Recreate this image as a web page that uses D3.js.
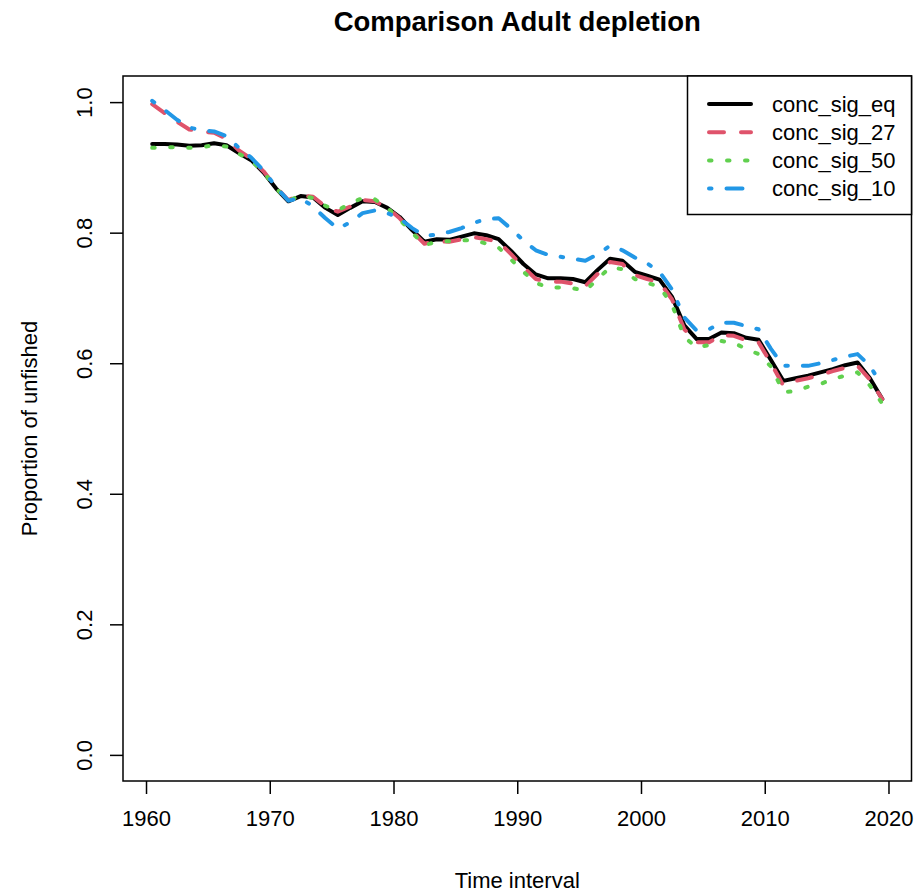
<!DOCTYPE html>
<html>
<head>
<meta charset="utf-8">
<script src="https://cdn.jsdelivr.net/npm/d3@7"></script>
<style>
  html, body { margin: 0; padding: 0; background: #fff; }
  svg { display: block; }
  text { font-family: "Liberation Sans", Arial, sans-serif; fill: #000; }
</style>
</head>
<body>
<div id="chart"></div>
<script>
// time points (mid-year, one per year 1960..2019)
const years = d3.range(1960.5, 2020, 1);

const concSigEq = [
  0.936, 0.936, 0.935, 0.933, 0.934, 0.937, 0.934, 0.922, 0.911, 0.892,
  0.868, 0.848, 0.856, 0.854, 0.838, 0.827, 0.838, 0.848, 0.847, 0.838,
  0.824, 0.804, 0.786, 0.790, 0.789, 0.794, 0.799, 0.796, 0.790, 0.772,
  0.752, 0.736, 0.730, 0.730, 0.729, 0.724, 0.743, 0.760, 0.757, 0.740,
  0.734, 0.728, 0.702, 0.658, 0.637, 0.637, 0.647, 0.646, 0.639, 0.636,
  0.605, 0.573, 0.577, 0.581, 0.586, 0.591, 0.597, 0.601, 0.577, 0.545
];
const concSig27 = [
  0.997, 0.983, 0.970, 0.958, 0.955, 0.953, 0.944, 0.926, 0.913, 0.894,
  0.870, 0.850, 0.857, 0.855, 0.840, 0.832, 0.840, 0.850, 0.848, 0.838,
  0.822, 0.802, 0.783, 0.787, 0.786, 0.790, 0.793, 0.790, 0.786, 0.767,
  0.747, 0.729, 0.725, 0.725, 0.722, 0.718, 0.737, 0.755, 0.752, 0.735,
  0.729, 0.724, 0.698, 0.652, 0.632, 0.632, 0.643, 0.642, 0.635, 0.632,
  0.600, 0.566, 0.573, 0.577, 0.582, 0.588, 0.593, 0.596, 0.575, 0.545
];
const concSig50 = [
  0.930, 0.931, 0.931, 0.930, 0.931, 0.934, 0.932, 0.921, 0.910, 0.893,
  0.868, 0.849, 0.857, 0.853, 0.841, 0.834, 0.845, 0.853, 0.851, 0.838,
  0.820, 0.800, 0.781, 0.786, 0.787, 0.788, 0.789, 0.783, 0.777, 0.759,
  0.740, 0.723, 0.716, 0.716, 0.715, 0.711, 0.729, 0.747, 0.744, 0.729,
  0.723, 0.717, 0.690, 0.640, 0.624, 0.628, 0.634, 0.631, 0.622, 0.614,
  0.595, 0.556, 0.557, 0.564, 0.568, 0.576, 0.581, 0.586, 0.566, 0.538
];
const concSig10 = [
  1.002, 0.988, 0.973, 0.961, 0.957, 0.955, 0.948, 0.930, 0.915, 0.895,
  0.870, 0.849, 0.853, 0.840, 0.822, 0.806, 0.816, 0.830, 0.834, 0.830,
  0.822, 0.807, 0.795, 0.797, 0.801, 0.807, 0.815, 0.821, 0.822, 0.806,
  0.788, 0.773, 0.766, 0.763, 0.760, 0.757, 0.767, 0.780, 0.773, 0.762,
  0.753, 0.740, 0.713, 0.670, 0.650, 0.652, 0.662, 0.662, 0.657, 0.652,
  0.622, 0.596, 0.596, 0.596, 0.600, 0.605, 0.610, 0.614, 0.596, 0.565
];

const seriesNames = ["conc_sig_eq", "conc_sig_27", "conc_sig_50", "conc_sig_10"];
const seriesColors = ["#000000", "#DF536B", "#61D04F", "#2297E6"];
const seriesDash = [null, "15,17", "2.5,15.5", "2.5,15,16,15"];
const xTicks = [1960, 1970, 1980, 1990, 2000, 2010, 2020];
const yTicks = [0.0, 0.2, 0.4, 0.6, 0.8, 1.0];

const W = 917, H = 894;
const box = { left: 123, right: 911.5, top: 76, bottom: 781 };

const svg = d3.select("#chart").append("svg")
  .attr("width", W).attr("height", H);
svg.append("rect").attr("width", W).attr("height", H).attr("fill", "#fff");

// R style: 4% padding around the data range
const xr = d3.extent(years), xpad = (xr[1] - xr[0]) * 0.04;
const x = d3.scaleLinear().domain([xr[0] - xpad, xr[1] + xpad]).range([box.left, box.right]);
const y = d3.scaleLinear().domain([-0.04, 1.04]).range([box.bottom, box.top]);

const allSeries = [concSigEq, concSig27, concSig50, concSig10];

const line = d3.line()
  .x((d, i) => x(years[i]))
  .y(d => y(d));

svg.append("clipPath").attr("id", "plotclip")
  .append("rect")
  .attr("x", box.left).attr("y", box.top)
  .attr("width", box.right - box.left).attr("height", box.bottom - box.top);

svg.append("g").attr("clip-path", "url(#plotclip)")
  .selectAll("path")
  .data(allSeries)
  .enter().append("path")
  .attr("d", line)
  .attr("fill", "none")
  .attr("stroke", (d, i) => seriesColors[i])
  .attr("stroke-width", 4)
  .attr("stroke-linecap", "round")
  .attr("stroke-linejoin", "round")
  .attr("stroke-dasharray", (d, i) => seriesDash[i]);

// axes
const xAxis = svg.append("g")
  .attr("transform", `translate(0,${box.bottom})`)
  .call(d3.axisBottom(x).tickValues(xTicks).tickFormat(d3.format("d")).tickSize(13).tickPadding(16));
xAxis.select(".domain").remove();
xAxis.selectAll("line").attr("stroke", "#000").attr("stroke-width", 1.5);
xAxis.selectAll("text").attr("font-size", 22).attr("font-family", "Liberation Sans, Arial, sans-serif");

const yAxis = svg.append("g")
  .attr("transform", `translate(${box.left},0)`)
  .call(d3.axisLeft(y).tickValues(yTicks).tickFormat(d3.format(".1f")).tickSize(13));
yAxis.select(".domain").remove();
yAxis.selectAll("line").attr("stroke", "#000").attr("stroke-width", 1.5);
yAxis.selectAll("text")
  .attr("font-size", 22)
  .attr("font-family", "Liberation Sans, Arial, sans-serif")
  .attr("x", null).attr("dy", null)
  .attr("text-anchor", "middle")
  .attr("transform", "translate(-31,0) rotate(-90)")
  .attr("y", 0);

// plot box
svg.append("rect")
  .attr("x", box.left).attr("y", box.top)
  .attr("width", box.right - box.left).attr("height", box.bottom - box.top)
  .attr("fill", "none").attr("stroke", "#000").attr("stroke-width", 1.5);

// titles
svg.append("text")
  .attr("x", (box.left + box.right) / 2).attr("y", 31)
  .attr("text-anchor", "middle")
  .attr("font-size", 27.5).attr("font-weight", "bold")
  .text("Comparison Adult depletion");

svg.append("text")
  .attr("x", (box.left + box.right) / 2).attr("y", 888)
  .attr("text-anchor", "middle")
  .attr("font-size", 22)
  .text("Time interval");

svg.append("text")
  .attr("transform", `translate(37,${(box.top + box.bottom) / 2}) rotate(-90)`)
  .attr("text-anchor", "middle")
  .attr("font-size", 22)
  .text("Proportion of unfished");

// legend
const legend = svg.append("g");
legend.append("rect")
  .attr("x", 687.5).attr("y", box.top)
  .attr("width", box.right - 687.5).attr("height", 214.5 - box.top)
  .attr("fill", "#fff").attr("stroke", "#000").attr("stroke-width", 1.5);

const rows = legend.selectAll("g.row")
  .data(seriesNames)
  .enter().append("g")
  .attr("class", "row")
  .attr("transform", (d, i) => `translate(0,${104 + i * 28.2})`);

rows.append("line")
  .attr("x1", 709).attr("x2", 751)
  .attr("stroke", (d, i) => seriesColors[i])
  .attr("stroke-width", 4)
  .attr("stroke-linecap", "round")
  .attr("stroke-dasharray", (d, i) => seriesDash[i]);

rows.append("text")
  .attr("x", 772).attr("dy", "0.35em")
  .attr("font-size", 22)
  .text(d => d);
</script>
</body>
</html>
